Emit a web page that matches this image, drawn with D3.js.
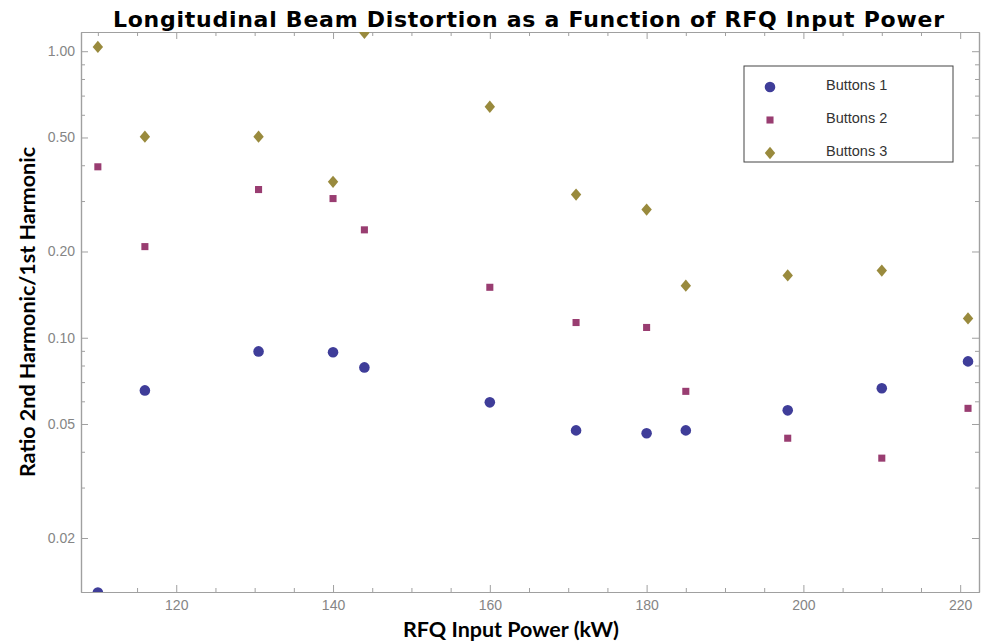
<!DOCTYPE html>
<html>
<head>
<meta charset="utf-8">
<script src="https://cdn.jsdelivr.net/npm/d3@7"></script>
<style>
  body { margin: 0; background: #fff; }
  svg { display: block; }
</style>
</head>
<body>
<div id="chart"></div>
<script>
// input power values (kW), same for every series
var power = [110, 116, 130.5, 140, 144, 160, 171, 180, 185, 198, 210, 221];

// ratio 2nd harmonic / 1st harmonic
var buttons1 = [0.0129, 0.0655, 0.0896, 0.089, 0.0788, 0.0595, 0.0475, 0.0464, 0.0475, 0.0558, 0.0666, 0.0827];
var buttons2 = [0.395, 0.208, 0.329, 0.306, 0.238, 0.150, 0.113, 0.1086, 0.065, 0.0446, 0.038, 0.0567];
var buttons3 = [1.035, 0.503, 0.503, 0.350, 1.16, 0.64, 0.316, 0.280, 0.152, 0.165, 0.1716, 0.1168];

var seriesNames = ["Buttons 1", "Buttons 2", "Buttons 3"];
var seriesColors = ["#3f3d99", "#993d71", "#998a3d"];
var seriesShapes = ["circle", "square", "diamond"];

var yMajorTicks = [0.02, 0.05, 0.1, 0.2, 0.5, 1.0];
var yMinorTicks = [0.03, 0.04, 0.06, 0.07, 0.08, 0.09, 0.3, 0.4, 0.6, 0.7, 0.8, 0.9];
var xMajorTicks = [120, 140, 160, 180, 200, 220];
var xMinorTicks = [110, 115, 125, 130, 135, 145, 150, 155, 165, 170, 175, 185, 190, 195, 205, 210, 215];

var W = 982, H = 644;
var margin = {top: 32, right: 3, bottom: 52, left: 81};
var width = W - margin.left - margin.right;
var height = H - margin.top - margin.bottom;

var svg = d3.select("#chart").append("svg")
  .attr("width", W)
  .attr("height", H);

var x = d3.scaleLinear().domain([107.85, 222.4]).range([0, width]);
var y = d3.scaleLog().domain([0.01296, 1.167]).range([height, 0]);

var g = svg.append("g")
  .attr("transform", "translate(" + margin.left + "," + margin.top + ")");

var frameColor = "#a0a0a0";

// frame axes, ticks pointing inwards like the original
function frameAxis(axisFn, scale, ticks, size, labels) {
  return axisFn(scale).tickValues(ticks).tickSizeInner(-size).tickSizeOuter(0)
    .tickFormat(labels ? labels : "");
}

var yFmt = d3.format(".2f");

g.append("g").attr("class", "ax xlab").attr("transform", "translate(0," + height + ")")
  .call(frameAxis(d3.axisBottom, x, xMajorTicks, 7, d3.format("d")));
g.append("g").attr("class", "ax").attr("transform", "translate(0," + height + ")")
  .call(frameAxis(d3.axisBottom, x, xMinorTicks, 4));
g.append("g").attr("class", "ax")
  .call(frameAxis(d3.axisTop, x, xMajorTicks, 7));
g.append("g").attr("class", "ax")
  .call(frameAxis(d3.axisTop, x, xMinorTicks, 4));

g.append("g").attr("class", "ax ylab")
  .call(frameAxis(d3.axisLeft, y, yMajorTicks, 7, yFmt));
g.append("g").attr("class", "ax")
  .call(frameAxis(d3.axisLeft, y, yMinorTicks, 4));
g.append("g").attr("class", "ax").attr("transform", "translate(" + width + ",0)")
  .call(frameAxis(d3.axisRight, y, yMajorTicks, 7));
g.append("g").attr("class", "ax").attr("transform", "translate(" + width + ",0)")
  .call(frameAxis(d3.axisRight, y, yMinorTicks, 4));

g.selectAll(".ax .domain").attr("stroke", frameColor).attr("stroke-width", 1.2);
g.selectAll(".ax line").attr("stroke", frameColor);
g.selectAll(".ax text")
  .attr("fill", "#858585")
  .style("font-family", "'Liberation Sans', Arial, sans-serif")
  .style("font-size", "14px");
// labels sit outside the frame, not next to the inward ticks
g.selectAll(".ylab text").attr("x", -6);
g.selectAll(".xlab text").attr("y", 8);

// clip marks to the plot area
svg.append("clipPath").attr("id", "plotclip")
  .append("rect").attr("width", width).attr("height", height);

var symbolFor = {
  circle: d3.symbol().type(d3.symbolCircle).size(88),
  square: d3.symbol().type(d3.symbolSquare).size(50),
  diamond: d3.symbol().type(d3.symbolDiamond).size(60)
};

var allSeries = [buttons1, buttons2, buttons3];
var marks = g.append("g").attr("clip-path", "url(#plotclip)");

allSeries.forEach(function(vals, i) {
  var shape = seriesShapes[i];
  marks.selectAll(".s" + i)
    .data(vals.map(function(v, j) { return {x: power[j], y: v}; }))
    .enter().append("path")
      .attr("d", symbolFor[shape])
      .attr("fill", seriesColors[i])
      .attr("transform", function(d) {
        var sc = shape === "diamond" ? " scale(1.25,0.85)" : "";
        return "translate(" + x(d.x) + "," + y(d.y) + ")" + sc;
      });
});

// legend
var legX = 744, legY = 66;
svg.append("rect")
  .attr("x", legX).attr("y", legY)
  .attr("width", 209).attr("height", 96)
  .attr("fill", "#fff")
  .attr("stroke", "#444").attr("stroke-width", 1);

seriesNames.forEach(function(name, i) {
  var ry = legY + 21 + i * 33;
  var sc = seriesShapes[i] === "diamond" ? " scale(1.25,0.85)" : "";
  svg.append("path")
    .attr("d", symbolFor[seriesShapes[i]])
    .attr("fill", seriesColors[i])
    .attr("transform", "translate(" + (legX + 26) + "," + ry + ")" + sc);
  svg.append("text")
    .attr("x", legX + 82).attr("y", ry + 3)
    .attr("fill", "#333")
    .style("font-family", "'Liberation Sans', Arial, sans-serif")
    .style("font-size", "14.5px")
    .text(name);
});

// title and axis labels
svg.append("text")
  .attr("x", 113).attr("y", 27)
  .attr("textLength", 831)
  .attr("lengthAdjust", "spacing")
  .style("font-family", "'DejaVu Sans', sans-serif")
  .style("font-weight", "bold")
  .style("font-size", "22px")
  .text("Longitudinal Beam Distortion as a Function of RFQ Input Power");

svg.append("text")
  .attr("x", 511).attr("y", 637)
  .attr("text-anchor", "middle")
  .style("font-family", "Lato, 'Open Sans', sans-serif")
  .style("font-weight", "bold")
  .style("font-size", "21.5px")
  .text("RFQ Input Power (kW)");

svg.append("text")
  .attr("transform", "translate(35,312) rotate(-90)")
  .attr("text-anchor", "middle")
  .style("font-family", "Lato, 'Open Sans', sans-serif")
  .style("font-weight", "bold")
  .style("font-size", "21.5px")
  .text("Ratio 2nd Harmonic/1st Harmonic");
</script>
</body>
</html>
